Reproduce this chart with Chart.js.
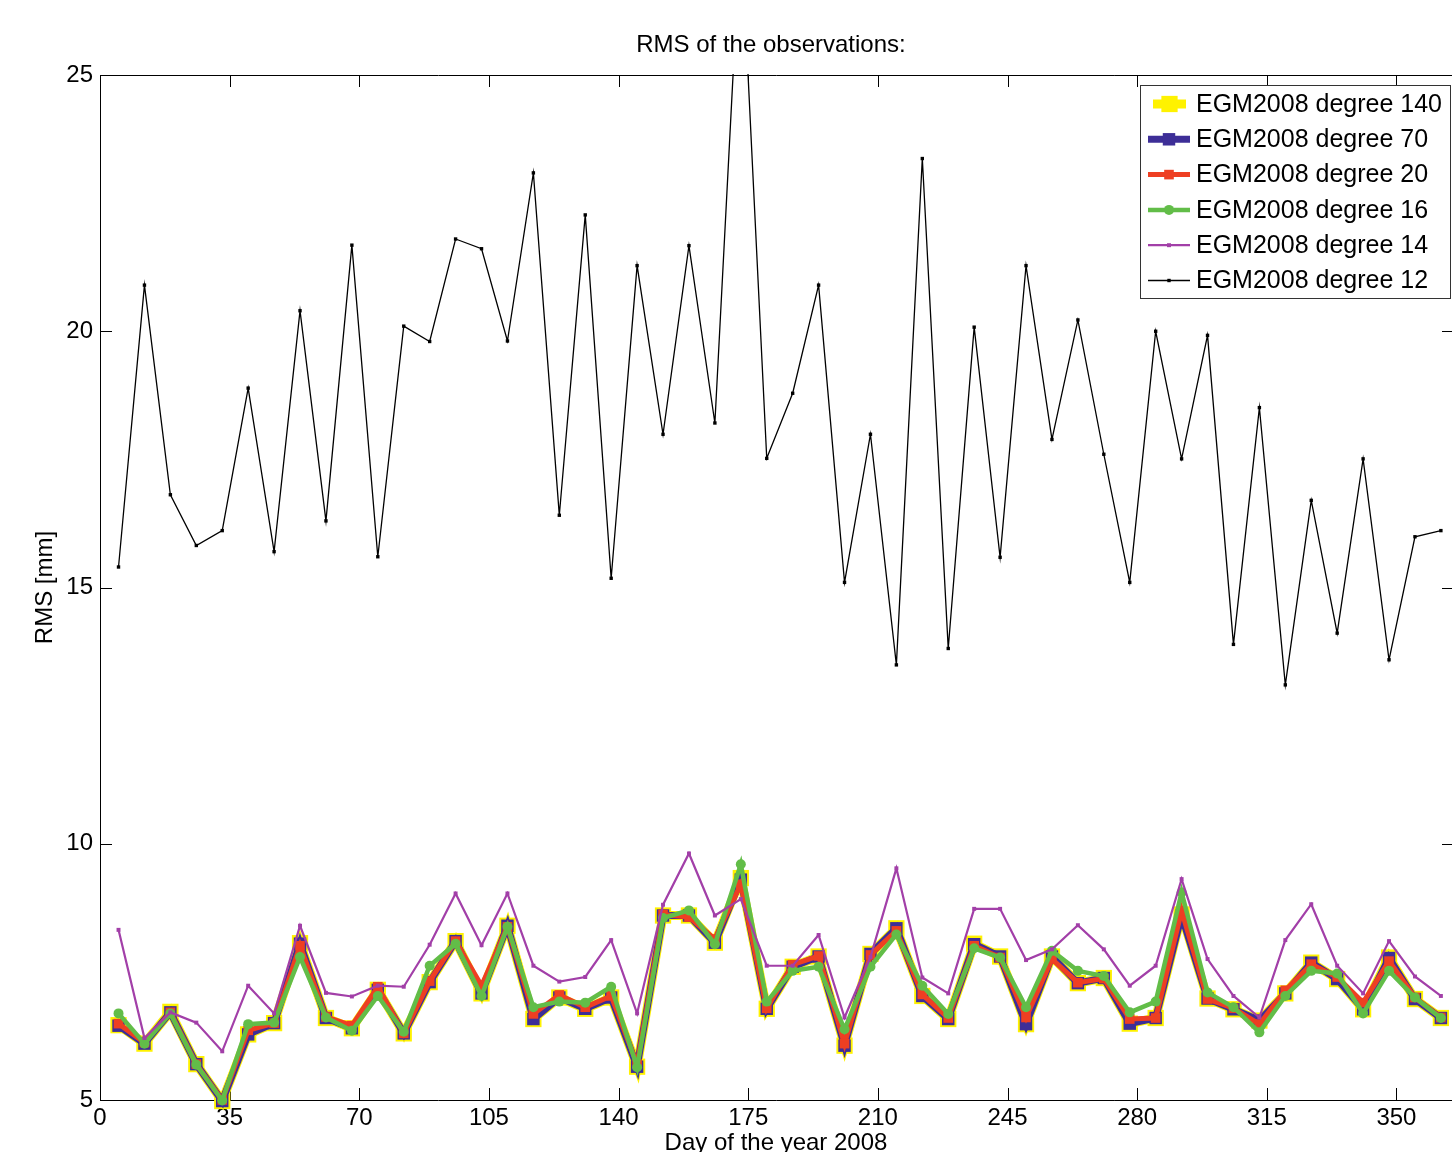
<!DOCTYPE html>
<html>
<head>
<meta charset="utf-8">
<title>RMS of the observations</title>
<script src="https://cdn.jsdelivr.net/npm/chart.js@4.4.1/dist/chart.umd.min.js"></script>
<style>
    html, body { margin: 0; padding: 0; background: #fff; overflow: hidden; }
    #wrap { width: 1452px; height: 1152px; }
</style>
</head>
<body>
<div id="wrap"><canvas id="chart" width="1452" height="1152"></canvas></div>
<script>

// day of the year 2008, one solution every 7 days
const days = [5, 12, 19, 26, 33, 40, 47, 54, 61, 68, 75, 82, 89, 96, 103, 110, 117, 124, 131, 138,
    145, 152, 159, 166, 173, 180, 187, 194, 201, 208, 215, 222, 229, 236, 243, 250, 257, 264, 271, 278,
    285, 292, 299, 306, 313, 320, 327, 334, 341, 348, 355, 362];

const deg140 = [6.46, 6.10, 6.72, 5.70, 4.98, 6.28, 6.50, 8.06, 6.60, 6.40, 7.15, 6.30, 7.30, 8.10, 7.08, 8.40, 6.58, 7.00, 6.78, 7.00,
    5.65, 8.60, 8.60, 8.07, 9.33, 6.78, 7.60, 7.80, 6.06, 7.85, 8.35, 7.03, 6.58, 8.05, 7.80, 6.48, 7.80, 7.28, 7.38, 6.49,
    6.60, 8.62, 6.98, 6.77, 6.55, 7.08, 7.68, 7.36, 6.77, 7.78, 6.97, 6.60];

const deg70 = [6.45, 6.10, 6.71, 5.70, 4.98, 6.28, 6.50, 8.05, 6.60, 6.40, 7.15, 6.30, 7.30, 8.10, 7.08, 8.40, 6.58, 7.00, 6.78, 7.00,
    5.65, 8.60, 8.60, 8.07, 9.30, 6.78, 7.60, 7.80, 6.06, 7.85, 8.35, 7.03, 6.58, 8.04, 7.80, 6.48, 7.80, 7.28, 7.38, 6.49,
    6.60, 8.60, 6.98, 6.77, 6.55, 7.08, 7.68, 7.36, 6.77, 7.77, 6.97, 6.60];

const deg20 = [6.49, 6.12, 6.71, 5.70, 5.00, 6.36, 6.50, 8.01, 6.62, 6.45, 7.21, 6.30, 7.32, 8.10, 7.23, 8.38, 6.68, 7.05, 6.81, 7.03,
    5.70, 8.62, 8.57, 8.14, 9.21, 6.79, 7.64, 7.81, 6.10, 7.83, 8.30, 7.06, 6.60, 8.01, 7.78, 6.61, 7.75, 7.29, 7.37, 6.58,
    6.60, 8.69, 6.97, 6.79, 6.48, 7.14, 7.65, 7.40, 6.90, 7.71, 7.00, 6.61];

const deg16 = [6.69, 6.10, 6.69, 5.69, 4.99, 6.48, 6.51, 7.79, 6.61, 6.35, 7.03, 6.33, 7.62, 8.05, 7.03, 8.38, 6.81, 6.92, 6.90, 7.21,
    5.64, 8.55, 8.70, 8.04, 9.60, 6.92, 7.52, 7.60, 6.38, 7.60, 8.23, 7.23, 6.68, 7.96, 7.78, 6.81, 7.91, 7.52, 7.42, 6.71,
    6.92, 9.05, 7.10, 6.81, 6.32, 7.03, 7.52, 7.47, 6.69, 7.52, 7.00, 6.60];

const deg14 = [8.32, 6.21, 6.71, 6.51, 5.95, 7.23, 6.69, 8.40, 7.09, 7.02, 7.23, 7.21, 8.03, 9.03, 8.02, 9.03, 7.62, 7.31, 7.40, 8.12,
    6.69, 8.81, 9.81, 8.60, 8.92, 7.62, 7.62, 8.22, 6.61, 7.79, 9.52, 7.39, 7.08, 8.73, 8.73, 7.73, 7.94, 8.41, 7.94, 7.23,
    7.62, 9.31, 7.75, 7.03, 6.61, 8.12, 8.82, 7.62, 7.08, 8.10, 7.41, 7.03];

const deg12 = [15.40, 20.90, 16.81, 15.82, 16.11, 18.89, 15.70, 20.40, 16.30, 21.68, 15.60, 20.10, 19.80, 21.80, 21.61, 19.81, 23.09, 16.41, 22.27, 15.18,
    21.28, 17.99, 21.67, 18.21, 27.90, 17.52, 18.79, 20.90, 15.10, 17.99, 13.49, 23.37, 13.81, 20.08, 15.59, 21.28, 17.89, 20.22, 17.60, 15.10,
    20.00, 17.51, 19.92, 13.89, 18.51, 13.10, 16.70, 14.11, 17.51, 13.59, 15.99, 16.11];

const xTicks = [0, 35, 70, 105, 140, 175, 210, 245, 280, 315, 350];
const yTicks = [5, 10, 15, 20, 25];

const FONT = "'Liberation Sans', Arial, Helvetica, sans-serif";
Chart.defaults.font.family = FONT;
Chart.defaults.font.size = 24;
Chart.defaults.color = "#000";

function series(label, values, color, width, style, radius, order) {
    return {
        label: label,
        data: values.map((v, i) => ({ x: days[i], y: v })),
        borderColor: color,
        backgroundColor: color,
        borderWidth: width,
        pointStyle: style,
        pointRadius: radius,
        pointHoverRadius: radius,
        pointBorderWidth: 0,
        tension: 0,
        clip: false,
        order: order
    };
}

const datasets = [
    series("EGM2008 degree 140", deg140, "#fff200", 9, "rect", 11.5, 6),
    series("EGM2008 degree 70", deg70, "#3d2e97", 7, "rect", 8.8, 5),
    series("EGM2008 degree 20", deg20, "#ee3f22", 5, "rect", 6.8, 4),
    series("EGM2008 degree 16", deg16, "#62bd48", 4.5, "circle", 5, 3),
    series("EGM2008 degree 14", deg14, "#a23fa8", 2.2, "rect", 2.8, 2),
    series("EGM2008 degree 12", deg12, "#000000", 1.3, "rect", 2.4, 1)
];
// the degree 12 curve leaves the top of the frame around day 173
datasets[5].clip = 1;

// box round the axes, with the ticks pointing inwards on all four sides
// (the right edge of the axes falls just outside the picture)
const frame = {
    id: "frame",
    beforeDatasetsDraw(chart) {
        const { ctx, chartArea: a, scales } = chart;
        const len = 12;
        const right = a.right + 2;
        ctx.save();
        ctx.strokeStyle = "#000";
        ctx.lineWidth = 1;
        ctx.beginPath();
        ctx.moveTo(right, a.top + 0.5);
        ctx.lineTo(a.left + 0.5, a.top + 0.5);
        ctx.lineTo(a.left + 0.5, a.bottom + 0.5);
        ctx.lineTo(right, a.bottom + 0.5);
        xTicks.forEach(v => {
            const px = Math.round(scales.x.getPixelForValue(v)) + 0.5;
            ctx.moveTo(px, a.bottom);
            ctx.lineTo(px, a.bottom - len);
            ctx.moveTo(px, a.top);
            ctx.lineTo(px, a.top + len);
        });
        yTicks.forEach(v => {
            const py = Math.round(scales.y.getPixelForValue(v)) + 0.5;
            ctx.moveTo(a.left, py);
            ctx.lineTo(a.left + len, py);
            ctx.moveTo(right, py);
            ctx.lineTo(right - len, py);
        });
        ctx.stroke();

        ctx.font = "24px " + FONT;
        ctx.textAlign = "center";
        ctx.textBaseline = "middle";
        ctx.fillStyle = "#000";
        ctx.fillText("RMS of the observations:", 771, 45);
        ctx.restore();
    }
};

// legend box in the upper right corner, inside the axes
const cornerLegend = {
    id: "cornerLegend",
    afterDraw(chart) {
        const ctx = chart.ctx;
        const left = 1140, top = 85, width = 310, height = 213;
        const rowH = 35.3;
        ctx.save();
        ctx.fillStyle = "#fff";
        ctx.fillRect(left, top, width, height);
        ctx.strokeStyle = "#333";
        ctx.lineWidth = 1;
        ctx.strokeRect(left + 0.5, top + 0.5, width, height);

        chart.data.datasets.forEach((ds, i) => {
            const cy = top + 19 + i * rowH;
            const x0 = i === 0 ? 1153 : 1148;
            const x1 = i === 0 ? 1186 : 1190;
            ctx.strokeStyle = ds.borderColor;
            ctx.lineWidth = ds.borderWidth;
            ctx.beginPath();
            ctx.moveTo(x0, cy);
            ctx.lineTo(x1, cy);
            ctx.stroke();
            ctx.fillStyle = ds.backgroundColor;
            Chart.helpers.drawPoint(ctx, {
                pointStyle: ds.pointStyle,
                radius: ds.pointRadius,
                borderWidth: 0,
                rotation: 0
            }, (x0 + x1) / 2, cy);

            ctx.fillStyle = "#000";
            ctx.font = "25px " + FONT;
            ctx.textAlign = "left";
            ctx.textBaseline = "middle";
            ctx.fillText(ds.label, 1196, cy + 1);
        });
        ctx.restore();
    }
};

new Chart(document.getElementById("chart"), {

    type: "line",

    data: {
        datasets: datasets
    },

    options: {
        responsive: false,
        animation: false,
        devicePixelRatio: 1,
        events: [],
        layout: {
            autoPadding: false,
            padding: { top: 75, right: 0, bottom: 0, left: 0 }
        },
        plugins: {
            legend: { display: false },
            title: { display: false },
            tooltip: { enabled: false }
        },
        scales: {

            x: {
                type: "linear",
                min: 0,
                max: 365,
                grid: { display: false, drawTicks: false, tickLength: 0 },
                border: { display: false },
                afterBuildTicks: scale => {
                    scale.ticks = xTicks.map(v => ({ value: v }));
                },
                afterFit: scale => {
                    scale.height = 52;
                    scale.paddingLeft = 0;
                    scale.paddingRight = 0;
                },
                ticks: {
                    padding: 4,
                    maxRotation: 0,
                    autoSkip: false,
                    font: { size: 24 }
                },
                title: {
                    display: true,
                    text: "Day of the year 2008",
                    font: { size: 24 },
                    padding: { top: 0, bottom: -5.4 }
                }
            },

            y: {
                type: "linear",
                min: 5,
                max: 25,
                grid: { display: false, drawTicks: false, tickLength: 0 },
                border: { display: false },
                afterBuildTicks: scale => {
                    scale.ticks = yTicks.map(v => ({ value: v }));
                },
                afterFit: scale => {
                    scale.width = 100;
                    scale.paddingTop = 0;
                    scale.paddingBottom = 0;
                },
                ticks: {
                    padding: 7,
                    autoSkip: false,
                    font: { size: 24 }
                },
                title: {
                    display: true,
                    text: "RMS [mm]",
                    font: { size: 24 },
                    padding: { top: 30.6, bottom: 0 }
                }
            }

        }
    },

    plugins: [frame, cornerLegend]

});

</script>
</body>
</html>
